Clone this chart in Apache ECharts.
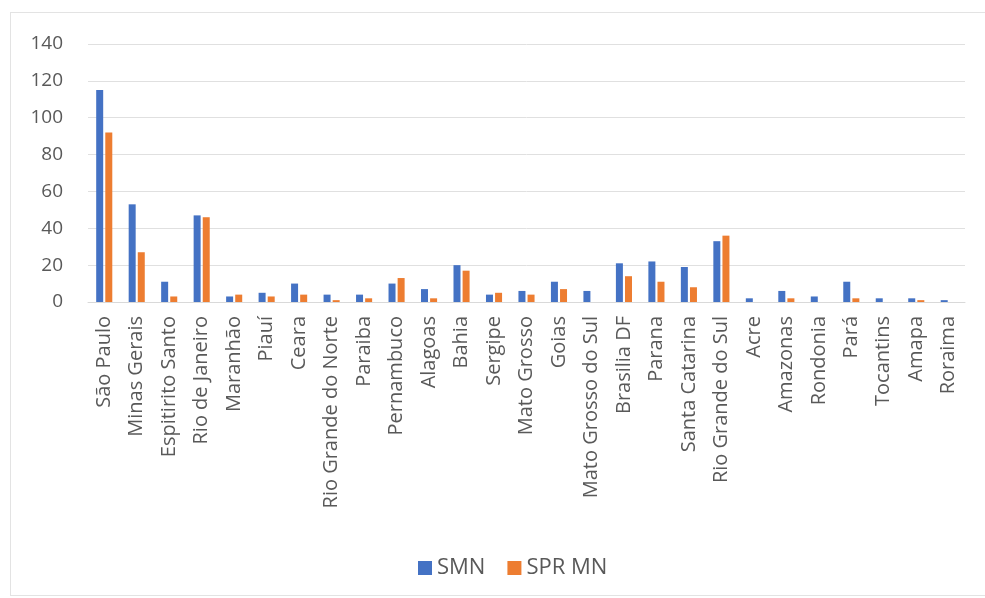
<!DOCTYPE html>
<html>
<head>
<meta charset="utf-8">
<script src="https://cdn.jsdelivr.net/npm/echarts@6/dist/echarts.min.js"></script>
<style>
  html, body { margin: 0; padding: 0; background: #fff; }
  #frame { position: absolute; left: 10px; top: 12px; width: 990px; height: 582px; border: 1px solid #e3e3e3; }
  #main { position: absolute; left: 0; top: 0; width: 985px; height: 598px; }
</style>
</head>
<body>
<div id="frame"></div>
<div id="main"></div>
<script>
// 州名
const states = [
  "São Paulo", "Minas Gerais", "Espitirito Santo", "Rio de Janeiro", "Maranhão",
  "Piauí", "Ceara", "Rio Grande do Norte", "Paraiba", "Pernambuco",
  "Alagoas", "Bahia", "Sergipe", "Mato Grosso", "Goias",
  "Mato Grosso do Sul", "Brasilia DF", "Parana", "Santa Catarina", "Rio Grande do Sul",
  "Acre", "Amazonas", "Rondonia", "Pará", "Tocantins",
  "Amapa", "Roraima"
];
// SMN
const smn = [115, 53, 11, 47, 3, 5, 10, 4, 4, 10, 7, 20, 4, 6, 11, 6, 21, 22, 19, 33, 2, 6, 3, 11, 2, 2, 1];
// SPR MN
const sprMn = [92, 27, 3, 46, 4, 3, 4, 1, 2, 13, 2, 17, 5, 4, 7, 0, 14, 11, 8, 36, 0, 2, 0, 2, 0, 1, 0];
const yTicks = [0, 140, 20]; // min, max, interval

const chart = echarts.init(document.getElementById("main"));
const textColor = "#595959";
const option = {
  animation: false,
  color: ["#4472C4", "#ED7D31"],
  textStyle: { fontFamily: "Open Sans" },
  legend: {
    bottom: 14,
    left: 413,
    itemWidth: 14,
    itemHeight: 14,
    itemGap: 22,
    icon: "rect",
    textStyle: { color: textColor, fontSize: 22, fontFamily: "Open Sans" },
    data: ["SMN", "SPR MN"]
  },
  grid: {
    left: 88,
    right: 20,
    top: 44,
    bottom: 296
  },
  xAxis: {
    type: "category",
    data: states,
    axisLine: { lineStyle: { color: "#d9d9d9" } },
    axisTick: { show: false },
    axisLabel: {
      interval: 0,
      rotate: 90,
      color: textColor,
      fontSize: 20,
      margin: 14
    }
  },
  yAxis: {
    type: "value",
    min: yTicks[0],
    max: yTicks[1],
    interval: yTicks[2],
    axisLine: { show: false },
    axisTick: { show: false },
    axisLabel: { color: textColor, fontSize: 19, margin: 25 },
    splitLine: { lineStyle: { color: "#e0e0e0", width: 1 } }
  },
  series: [
    {
      name: "SMN",
      type: "bar",
      data: smn,
      barWidth: 7,
      barGap: "30%"
    },
    {
      name: "SPR MN",
      type: "bar",
      data: sprMn,
      barWidth: 7
    }
  ]
};
chart.setOption(option);
</script>
</body>
</html>
